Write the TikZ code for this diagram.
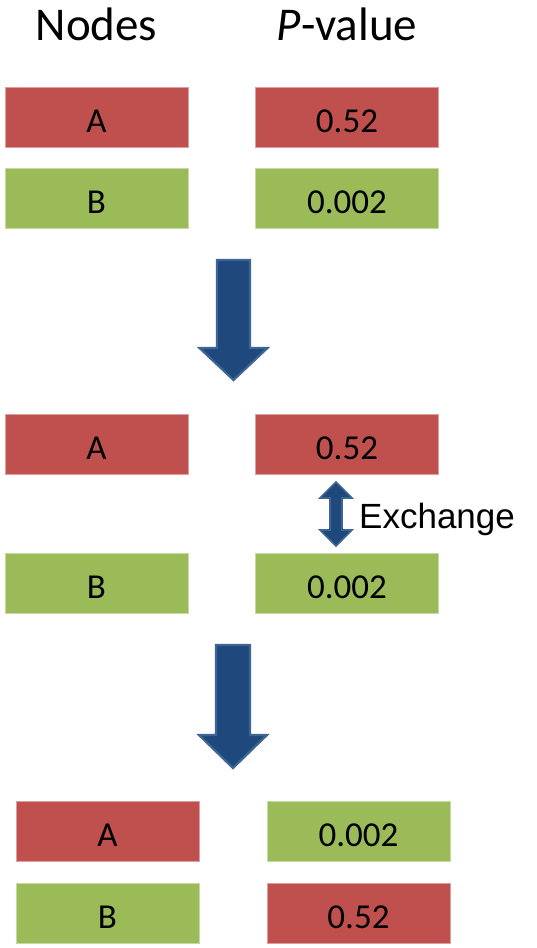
\documentclass[tikz,border=0pt]{standalone}
\usepackage{fontspec}
\setmainfont{Carlito}
\newfontfamily\arialfont{Liberation Sans}
\usepackage{tikz}
\usetikzlibrary{calc}
\definecolor{cellred}{RGB}{192,80,77}
\definecolor{cellgreen}{RGB}{155,187,89}
\definecolor{arrowblue}{RGB}{31,73,125}
\definecolor{arrowedge}{RGB}{60,100,148}
\tikzstyle{swap}=[
  x=1pt,y=-1pt,font=\fontsize{35}{40}\selectfont
]
\tikzstyle{cell}=[
  inner sep=0pt,minimum width=183pt,minimum height=60pt,
  text height=30pt,text depth=0pt
]
\tikzstyle{redcell}=[
  cell,fill=cellred,draw=cellred!55!white,line width=0.8pt
]
\tikzstyle{greencell}=[
  cell,fill=cellgreen,draw=cellgreen!55!white,line width=0.8pt
]
\tikzstyle{header}=[
  anchor=base,font=\fontsize{47}{52}\selectfont
]
\tikzstyle{blockarrow}=[
  fill=arrowblue,draw=arrowedge,line width=2.2pt,line join=miter
]
% down arrow: centre x, top, head start, tip, shaft half width, head half width
\newcommand{\downblock}[6]{%
  \draw [blockarrow] (#1-#5,#2) -- (#1+#5,#2) -- (#1+#5,#3) -- (#1+#6,#3)
    -- (#1,#4) -- (#1-#6,#3) -- (#1-#5,#3) -- cycle;}

\begin{document}
\begin{tikzpicture}[swap]
    \useasboundingbox (0,0) rectangle (536,948);

    \node (hn) at (96.5,40) [header] {Nodes};
    \node (hp) at (347,40) [header] {\textit{P}-value};

    % before
    \node (a1) at (96.5,117) [redcell] {A};
    \node (p1) at (347,117) [redcell] {0.52};
    \node (b1) at (96.5,198.5) [greencell] {B};
    \node (q1) at (347,198.5) [greencell] {0.002};

    \downblock{233.5}{260}{348}{380}{16.5}{34}

    % exchange
    \node (a2) at (96.5,444) [redcell] {A};
    \node (p2) at (347,444) [redcell] {0.52};
    \node (b2) at (96.5,583) [greencell] {B};
    \node (q2) at (347,583) [greencell] {0.002};

    \draw [blockarrow,line width=1.6pt] (330,498) -- (320,498) -- (336,482)
      -- (352,498) -- (342,498) -- (342,530) -- (352,530) -- (336,546)
      -- (320,530) -- (330,530) -- cycle;
    \node (ex) at (359,528) [anchor=base west,inner sep=0pt,
      font=\arialfont\fontsize{35}{40}\selectfont] {Exchange};

    \downblock{233}{645}{735}{768}{17}{34}

    % after
    \node (a3) at (107.5,831) [redcell] {A};
    \node (p3) at (358.5,831) [greencell] {0.002};
    \node (b3) at (107.5,913) [greencell] {B};
    \node (q3) at (358.5,913) [redcell] {0.52};

  \end{tikzpicture}
\end{document}
